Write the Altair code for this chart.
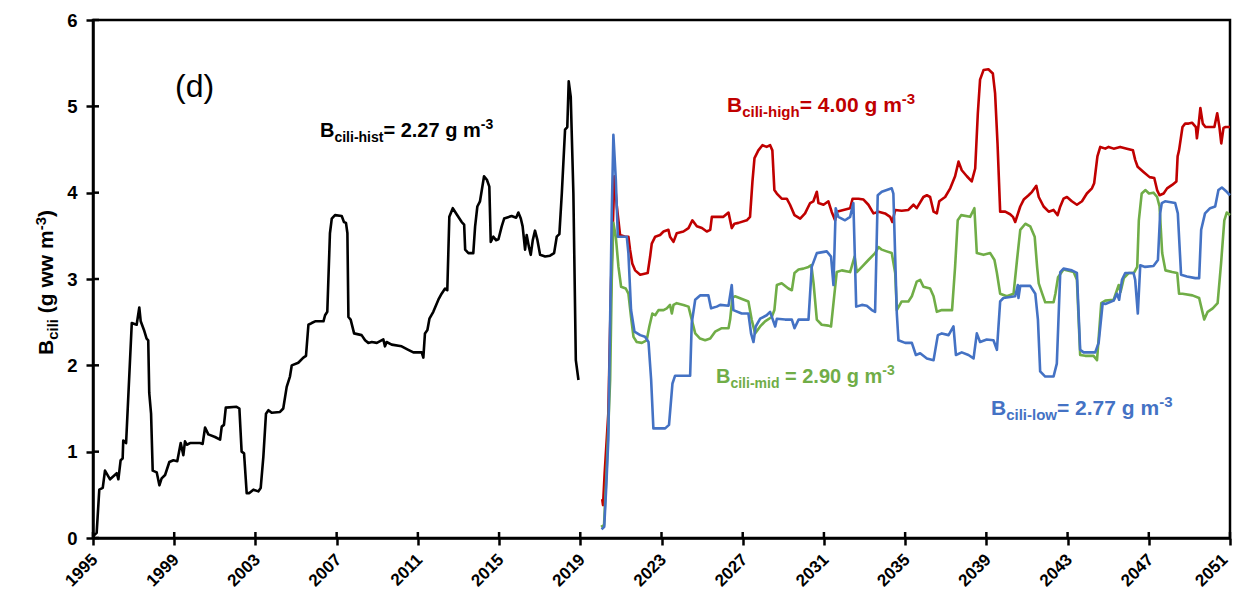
import altair as alt
import pandas as pd

# ---------------- data ----------------
hist_year = [1995.00, 1995.18, 1995.31, 1995.48, 1995.59, 1995.84, 1996.17, 1996.25, 1996.36, 1996.46,
             1996.49, 1996.63, 1996.91, 1997.15, 1997.28, 1997.35, 1997.51, 1997.64, 1997.72, 1997.77,
             1997.86, 1997.94, 1998.14, 1998.27, 1998.38, 1998.55, 1998.76, 1998.96, 1999.15, 1999.32,
             1999.45, 1999.53, 1999.62, 1999.78, 2000.27, 2000.40, 2000.52, 2000.68, 2001.01, 2001.26,
             2001.34, 2001.45, 2001.54, 2002.07, 2002.21, 2002.32, 2002.44, 2002.57, 2002.70, 2002.90,
             2003.14, 2003.26, 2003.39, 2003.52, 2003.64, 2003.80, 2004.21, 2004.37, 2004.54, 2004.70,
             2004.79, 2005.11, 2005.36, 2005.49, 2005.61, 2005.77, 2005.94, 2006.35, 2006.43, 2006.54,
             2006.67, 2006.76, 2006.92, 2007.25, 2007.36, 2007.46, 2007.53, 2007.58, 2007.69, 2007.86,
             2008.23, 2008.40, 2008.56, 2008.73, 2008.98, 2009.30, 2009.38, 2009.46, 2009.71, 2010.20,
             2010.53, 2010.78, 2011.19, 2011.27, 2011.35, 2011.47, 2011.57, 2011.76, 2012.01, 2012.17,
             2012.34, 2012.45, 2012.55, 2012.72, 2012.91, 2013.16, 2013.28, 2013.33, 2013.49, 2013.73,
             2013.82, 2013.93, 2014.06, 2014.15, 2014.26, 2014.40, 2014.52, 2014.59, 2014.72, 2014.85,
             2014.97, 2015.13, 2015.25, 2015.62, 2015.84, 2015.95, 2016.07, 2016.16, 2016.28, 2016.36,
             2016.48, 2016.56, 2016.66, 2016.77, 2016.89, 2017.02, 2017.27, 2017.51, 2017.71, 2017.84,
             2017.97, 2018.09, 2018.25, 2018.36, 2018.43, 2018.53, 2018.66, 2018.78, 2018.91]
hist_val = [0.02, 0.06, 0.56, 0.58, 0.78, 0.68, 0.75, 0.68, 0.90, 0.92,
            1.13, 1.10, 2.49, 2.47, 2.67, 2.51, 2.41, 2.31, 2.29, 1.68,
            1.44, 0.78, 0.76, 0.61, 0.69, 0.73, 0.88, 0.90, 0.89, 1.10,
            0.96, 1.12, 1.08, 1.10, 1.10, 1.09, 1.28, 1.20, 1.17, 1.14,
            1.29, 1.31, 1.51, 1.52, 1.50, 1.00, 0.98, 0.52, 0.52, 0.56,
            0.54, 0.58, 0.94, 1.44, 1.48, 1.45, 1.46, 1.50, 1.75, 1.87,
            2.00, 2.03, 2.09, 2.11, 2.47, 2.49, 2.51, 2.51, 2.58, 2.62,
            3.53, 3.70, 3.74, 3.73, 3.66, 3.65, 3.53, 2.56, 2.53, 2.37,
            2.35, 2.29, 2.26, 2.27, 2.26, 2.30, 2.22, 2.27, 2.24, 2.22,
            2.18, 2.15, 2.15, 2.09, 2.37, 2.41, 2.54, 2.62, 2.76, 2.83,
            2.89, 2.87, 3.72, 3.82, 3.75, 3.66, 3.63, 3.34, 3.30, 3.30,
            3.61, 3.84, 3.90, 4.03, 4.19, 4.15, 4.07, 3.43, 3.49, 3.45,
            3.46, 3.61, 3.70, 3.73, 3.71, 3.77, 3.70, 3.61, 3.34, 3.51,
            3.36, 3.28, 3.45, 3.56, 3.45, 3.28, 3.26, 3.27, 3.30, 3.49,
            3.52, 3.99, 4.73, 4.76, 5.29, 5.11, 3.99, 2.06, 1.83]

high_year = [2020.08, 2020.12, 2020.20, 2020.38, 2020.52, 2020.68, 2020.80, 2020.96, 2021.21, 2021.37,
             2021.45, 2021.56, 2021.70, 2021.95, 2022.32, 2022.44, 2022.52, 2022.69, 2022.93, 2023.10,
             2023.34, 2023.42, 2023.59, 2023.75, 2024.08, 2024.33, 2024.52, 2024.74, 2024.99, 2025.23,
             2025.40, 2025.48, 2025.72, 2026.05, 2026.30, 2026.38, 2026.46, 2026.59, 2026.79, 2027.20,
             2027.36, 2027.48, 2027.58, 2027.77, 2027.97, 2028.18, 2028.35, 2028.46, 2028.56, 2028.68,
             2028.92, 2029.17, 2029.33, 2029.55, 2029.83, 2030.07, 2030.32, 2030.48, 2030.65, 2030.73,
             2030.98, 2031.22, 2031.38, 2031.55, 2031.63, 2031.96, 2032.29, 2032.41, 2032.70, 2032.95,
             2033.19, 2033.44, 2033.69, 2034.01, 2034.26, 2034.37, 2034.51, 2034.83, 2035.16, 2035.41,
             2035.57, 2035.90, 2036.07, 2036.23, 2036.40, 2036.56, 2036.68, 2036.97, 2037.22, 2037.46,
             2037.63, 2037.79, 2038.04, 2038.28, 2038.45, 2038.58, 2038.69, 2038.86, 2039.10, 2039.32,
             2039.43, 2039.55, 2039.68, 2039.93, 2040.17, 2040.31, 2040.42, 2040.67, 2040.84, 2041.08,
             2041.25, 2041.46, 2041.58, 2041.82, 2042.07, 2042.31, 2042.51, 2042.64, 2042.80, 2042.97,
             2043.21, 2043.46, 2043.71, 2043.95, 2044.20, 2044.31, 2044.47, 2044.61, 2044.86, 2045.02,
             2045.27, 2045.59, 2045.92, 2046.22, 2046.33, 2046.45, 2046.74, 2047.04, 2047.27, 2047.41,
             2047.53, 2047.73, 2047.90, 2048.15, 2048.36, 2048.42, 2048.49, 2048.66, 2048.79, 2048.96,
             2049.13, 2049.32, 2049.37, 2049.46, 2049.54, 2049.66, 2049.79, 2050.23, 2050.37, 2050.48,
             2050.57, 2050.68, 2050.78, 2051.00]
high_val = [0.45, 0.38, 0.75, 1.44, 2.99, 4.19, 3.84, 3.51, 3.49, 3.49,
            3.34, 3.18, 3.10, 3.05, 3.07, 3.26, 3.41, 3.49, 3.51, 3.55,
            3.57, 3.49, 3.43, 3.53, 3.55, 3.59, 3.68, 3.61, 3.59, 3.55,
            3.57, 3.72, 3.72, 3.72, 3.77, 3.68, 3.59, 3.64, 3.65, 3.68,
            3.72, 4.13, 4.40, 4.49, 4.55, 4.53, 4.55, 4.49, 4.03, 3.99,
            3.93, 3.93, 3.86, 3.74, 3.70, 3.76, 3.88, 3.90, 4.01, 3.88,
            3.86, 3.90, 3.78, 3.68, 3.78, 3.80, 3.82, 3.93, 3.93, 3.92,
            3.86, 3.76, 3.78, 3.76, 3.72, 3.66, 3.80, 3.79, 3.80, 3.86,
            3.82, 3.95, 3.97, 3.95, 3.78, 3.76, 3.90, 3.95, 4.05, 4.19,
            4.36, 4.26, 4.19, 4.13, 4.28, 4.92, 5.31, 5.42, 5.43, 5.38,
            5.15, 4.57, 3.78, 3.78, 3.75, 3.72, 3.66, 3.84, 3.92, 3.97,
            4.01, 4.08, 3.95, 3.84, 3.78, 3.80, 3.74, 3.84, 3.93, 3.95,
            3.90, 3.86, 3.90, 3.99, 4.05, 4.11, 4.42, 4.53, 4.51, 4.53,
            4.51, 4.53, 4.51, 4.49, 4.38, 4.30, 4.24, 4.18, 4.17, 4.03,
            3.97, 3.99, 4.05, 4.09, 4.13, 4.42, 4.49, 4.76, 4.80, 4.80,
            4.81, 4.76, 4.63, 4.80, 4.98, 4.80, 4.76, 4.76, 4.92, 4.76,
            4.57, 4.75, 4.76, 4.76]

mid_year = [2020.02, 2020.17, 2020.30, 2020.47, 2020.55, 2020.63, 2020.75, 2020.88, 2021.01, 2021.24,
            2021.37, 2021.50, 2021.62, 2021.78, 2022.03, 2022.27, 2022.40, 2022.55, 2022.69, 2022.85,
            2023.10, 2023.26, 2023.42, 2023.51, 2023.59, 2023.75, 2024.08, 2024.33, 2024.49, 2024.66,
            2024.90, 2025.15, 2025.40, 2025.64, 2025.97, 2026.30, 2026.38, 2026.49, 2026.62, 2027.28,
            2027.44, 2027.61, 2027.86, 2028.10, 2028.43, 2028.56, 2028.68, 2028.92, 2029.25, 2029.42,
            2029.55, 2029.75, 2029.99, 2030.24, 2030.38, 2030.49, 2030.65, 2030.89, 2031.22, 2031.35,
            2031.47, 2031.63, 2031.88, 2032.29, 2032.51, 2032.62, 2032.87, 2033.19, 2033.52, 2033.69,
            2033.85, 2034.09, 2034.34, 2034.51, 2034.59, 2034.83, 2035.16, 2035.33, 2035.57, 2035.74,
            2035.90, 2036.23, 2036.40, 2036.56, 2036.81, 2037.14, 2037.31, 2037.46, 2037.59, 2037.76,
            2038.20, 2038.41, 2038.53, 2038.86, 2039.19, 2039.40, 2039.52, 2039.68, 2040.01, 2040.34,
            2040.51, 2040.67, 2040.92, 2041.16, 2041.38, 2041.50, 2041.58, 2041.75, 2041.90, 2042.31,
            2042.40, 2042.53, 2042.80, 2043.30, 2043.46, 2043.62, 2043.87, 2044.28, 2044.45, 2044.66,
            2044.86, 2045.27, 2045.52, 2045.61, 2045.77, 2046.02, 2046.27, 2046.43, 2046.51, 2046.65,
            2046.84, 2047.01, 2047.23, 2047.41, 2047.53, 2047.66, 2047.82, 2048.15, 2048.40, 2048.49,
            2048.66, 2049.15, 2049.48, 2049.62, 2049.73, 2049.90, 2050.15, 2050.39, 2050.56, 2050.72,
            2050.84, 2051.00]
mid_val = [0.13, 0.15, 0.80, 1.83, 2.99, 3.65, 3.49, 3.14, 2.91, 2.89,
           2.83, 2.56, 2.33, 2.27, 2.26, 2.29, 2.45, 2.60, 2.58, 2.64,
           2.64, 2.66, 2.70, 2.60, 2.70, 2.72, 2.70, 2.68, 2.53, 2.37,
           2.31, 2.29, 2.31, 2.39, 2.43, 2.43, 2.53, 2.78, 2.80, 2.74,
           2.53, 2.37, 2.45, 2.51, 2.56, 2.64, 2.93, 2.95, 2.89, 2.87,
           3.07, 3.11, 3.12, 3.14, 3.16, 2.95, 2.53, 2.47, 2.46, 2.45,
           2.72, 3.08, 3.10, 3.08, 3.26, 3.08, 3.14, 3.22, 3.30, 3.37,
           3.34, 3.32, 3.30, 3.07, 2.64, 2.74, 2.74, 2.80, 2.97, 2.99,
           2.91, 2.89, 2.80, 2.62, 2.64, 2.64, 2.64, 3.14, 3.68, 3.74,
           3.72, 3.82, 3.30, 3.28, 3.30, 3.22, 3.07, 2.83, 2.80, 2.83,
           3.22, 3.57, 3.64, 3.61, 3.49, 3.14, 2.95, 2.83, 2.73, 2.73,
           2.83, 3.02, 3.11, 3.08, 2.99, 2.12, 2.11, 2.11, 2.06, 2.72,
           2.75, 2.76, 2.93, 2.85, 3.01, 3.07, 3.07, 3.14, 3.68, 3.99,
           4.03, 3.99, 4.00, 3.95, 3.84, 3.30, 3.10, 3.08, 3.07, 2.83,
           2.83, 2.81, 2.78, 2.64, 2.53, 2.62, 2.66, 2.72, 3.18, 3.68,
           3.77, 3.74]

low_year = [2020.05, 2020.18, 2020.28, 2020.38, 2020.55, 2020.63, 2020.75, 2020.85, 2021.29, 2021.37,
            2021.50, 2021.67, 2021.95, 2022.19, 2022.36, 2022.49, 2022.60, 2023.18, 2023.37, 2023.54,
            2023.67, 2024.41, 2024.49, 2024.66, 2024.90, 2025.31, 2025.44, 2025.72, 2025.89, 2026.30,
            2026.46, 2026.54, 2026.95, 2027.28, 2027.41, 2027.53, 2027.64, 2027.86, 2028.18, 2028.35,
            2028.60, 2028.68, 2029.09, 2029.42, 2029.55, 2029.75, 2030.24, 2030.40, 2030.65, 2031.14,
            2031.35, 2031.47, 2031.58, 2031.71, 2032.04, 2032.29, 2032.45, 2032.59, 2032.87, 2033.11,
            2033.36, 2033.52, 2033.65, 2033.85, 2034.34, 2034.42, 2034.59, 2034.67, 2035.00, 2035.33,
            2035.53, 2035.74, 2036.07, 2036.40, 2036.61, 2036.81, 2037.14, 2037.38, 2037.50, 2037.79,
            2038.12, 2038.37, 2038.53, 2038.69, 2039.02, 2039.35, 2039.52, 2039.68, 2039.84, 2040.42,
            2040.55, 2040.58, 2040.67, 2041.16, 2041.41, 2041.54, 2041.65, 2041.90, 2042.31, 2042.47,
            2042.64, 2042.80, 2043.21, 2043.46, 2043.62, 2043.79, 2044.36, 2044.53, 2044.73, 2044.86,
            2045.27, 2045.43, 2045.54, 2045.68, 2045.84, 2046.25, 2046.33, 2046.46, 2046.58, 2046.82,
            2047.23, 2047.45, 2047.56, 2047.64, 2047.80, 2048.30, 2048.43, 2048.59, 2048.88, 2049.29,
            2049.48, 2049.58, 2049.77, 2050.02, 2050.27, 2050.43, 2050.60, 2050.84, 2051.00]
low_val = [0.10, 0.13, 0.60, 1.14, 3.76, 4.67, 4.15, 3.49, 3.49, 3.30,
           2.64, 2.39, 2.35, 2.33, 2.27, 1.83, 1.27, 1.27, 1.31, 1.79,
           1.88, 1.88, 2.49, 2.76, 2.81, 2.81, 2.66, 2.68, 2.70, 2.69,
           2.93, 2.64, 2.60, 2.60, 2.37, 2.27, 2.45, 2.54, 2.58, 2.62,
           2.45, 2.54, 2.53, 2.53, 2.43, 2.53, 2.53, 3.14, 3.30, 3.32,
           3.26, 2.93, 3.82, 3.72, 3.68, 3.72, 3.88, 2.68, 2.70, 2.69,
           2.64, 2.62, 3.97, 4.01, 4.05, 3.99, 2.60, 2.29, 2.26, 2.26,
           2.12, 2.14, 2.08, 2.06, 2.35, 2.37, 2.35, 2.45, 2.12, 2.15,
           2.12, 2.08, 2.37, 2.27, 2.30, 2.29, 2.18, 2.74, 2.78, 2.80,
           2.93, 2.78, 2.92, 2.92, 2.83, 2.53, 1.93, 1.87, 1.87, 2.02,
           3.08, 3.12, 3.10, 3.07, 2.18, 2.15, 2.15, 2.26, 2.72, 2.71,
           2.75, 2.83, 2.76, 2.99, 3.07, 3.07, 2.99, 2.60, 3.16, 3.14,
           3.15, 3.22, 3.76, 3.88, 3.90, 3.88, 3.76, 3.05, 3.03, 3.01,
           3.01, 3.57, 3.76, 3.82, 3.84, 4.03, 4.06, 4.01, 3.97]

series_names = ["hist", "high", "mid", "low"]
series_colors = ["#000000", "#C00000", "#70AD47", "#4472C4"]

x_ticks = [1995, 1999, 2003, 2007, 2011, 2015, 2019, 2023, 2027, 2031, 2035, 2039, 2043, 2047, 2051]
y_ticks = [0, 1, 2, 3, 4, 5, 6]

# ---------------- layout constants ----------------
W, H = 1137, 518
OX, OY = 93, 20   # plot origin in page pixels

frames = []
for name, xs, ys in [("hist", hist_year, hist_val), ("high", high_year, high_val),
                     ("mid", mid_year, mid_val), ("low", low_year, low_val)]:
    frames.append(pd.DataFrame({"year": xs, "val": ys, "series": name}))
lines_df = pd.concat(frames, ignore_index=True)

xscale = alt.Scale(domain=[1995, 2051], nice=False, zero=False)
yscale = alt.Scale(domain=[0, 6], nice=False)

lines = alt.Chart(lines_df).mark_line(strokeWidth=2.6, strokeJoin="round").encode(
    x=alt.X("year:Q", scale=xscale,
            axis=alt.Axis(values=x_ticks, format="d", labelAngle=-45, title=None,
                          labelFontSize=17, labelPadding=6,
                          labelOffset={"condition": {"test": "datum.value === 2051", "value": -11},
                                       "value": -4})),
    y=alt.Y("val:Q", scale=yscale,
            axis=alt.Axis(values=y_ticks, format="d", title=None, labelFontSize=18.5,
                          labelPadding=9)),
    color=alt.Color("series:N", scale=alt.Scale(domain=series_names, range=series_colors), legend=None),
    detail="series:N",
)

# inner half of the crossing tick marks
xt = alt.Chart(pd.DataFrame({"t": x_ticks})).mark_rule(color="black", strokeWidth=2.5).encode(
    x=alt.X("t:Q", scale=xscale), y=alt.value(H), y2=alt.value(H - 6))
yt = alt.Chart(pd.DataFrame({"t": y_ticks})).mark_rule(color="black", strokeWidth=2.5).encode(
    y=alt.Y("t:Q", scale=yscale), x=alt.value(0), x2=alt.value(6))

# ---------------- rich text helper (Arial-bold advance widths) ----------------
ADV = {" ": 278, "(": 333, ")": 333, "-": 333, ".": 278, "=": 584, "B": 722, "c": 556, "d": 611,
       "g": 611, "h": 611, "i": 278, "l": 278, "m": 889, "o": 611, "s": 556, "t": 333, "w": 778}
for dch in "0123456789":
    ADV[dch] = 556


def adv(s, size):
    return sum(ADV[c] for c in s) * size / 1000.0


def rich(parts, x0, y0, color, rotated=False):
    rows = []
    pos = 0.0
    for txt, size, shift in parts:
        stripped = txt.lstrip(" ")
        pos += adv(" " * (len(txt) - len(stripped)), size)
        if rotated:
            rows.append({"text": stripped, "px": x0 - OX + shift, "py": y0 - OY - pos, "size": size, "color": color})
        else:
            rows.append({"text": stripped, "px": x0 - OX + pos, "py": y0 - OY + shift, "size": size, "color": color})
        pos += adv(stripped, size)
    return rows


M, S = 21, 15
label_rows = []
label_rows += rich([("B", 20, 0), ("cili-hist", 14, 5), ("= 2.27 g m", 20, 0), ("-3", 14, -8)], 320, 137, "#000000")
label_rows += rich([("B", M, 0), ("cili-high", S, 5), ("= 4.00 g m", M, 0), ("-3", S, -8)], 727, 112, "#C00000")
label_rows += rich([("B", 20, 0), ("cili-mid", 14, 5), (" = 2.90 g m", 20, 0), ("-3", 14, -8)], 716, 383, "#70AD47")
label_rows += rich([("B", M, 0), ("cili-low", S, 5), ("= 2.77 g m", M, 0), ("-3", S, -8)], 991, 415, "#4472C4")
labels_df = pd.DataFrame(label_rows)

title_rows = rich([("B", 21, 0), ("cili", 15, 5), (" (g ww m", 21, 0), ("-3", 15, -7), (")", 21, 0)],
                  53, 355, "#000000", rotated=True)
title_df = pd.DataFrame(title_rows)

labels = alt.Chart(labels_df).mark_text(font="Liberation Sans", fontWeight="bold", align="left",
                                        baseline="alphabetic").encode(
    x=alt.X("px:Q", scale=None), y=alt.Y("py:Q", scale=None), text="text:N",
    size=alt.Size("size:Q", scale=None), color=alt.Color("color:N", scale=None))

ytitle = alt.Chart(title_df).mark_text(font="Liberation Sans", fontWeight="bold", align="left",
                                       baseline="alphabetic", angle=270).encode(
    x=alt.X("px:Q", scale=None), y=alt.Y("py:Q", scale=None), text="text:N",
    size=alt.Size("size:Q", scale=None), color=alt.Color("color:N", scale=None))

panel = alt.Chart(pd.DataFrame({"text": ["(d)"], "px": [175 - OX], "py": [97 - OY]})).mark_text(
    font="Liberation Sans", fontSize=32, align="left", baseline="alphabetic", color="black").encode(
    x=alt.X("px:Q", scale=None), y=alt.Y("py:Q", scale=None), text="text:N")

chart = alt.layer(lines, xt, yt, labels, ytitle, panel).resolve_scale(
    color="independent", size="independent"
).properties(
    width=W, height=H,
    autosize=alt.AutoSizeParams(type="none"),
    padding={"left": OX, "top": OY, "right": 1236 - OX - W, "bottom": 594 - OY - H},
    background="white",
).configure_view(
    stroke="black", strokeWidth=2.5
).configure_axis(
    grid=False, domainColor="black", domainWidth=2.5, tickColor="black", tickWidth=2.5, tickSize=7,
    labelFont="Liberation Sans", labelFontWeight="bold", labelColor="black",
)

chart.save("out.html", embed_options={"renderer": "svg", "actions": False})
